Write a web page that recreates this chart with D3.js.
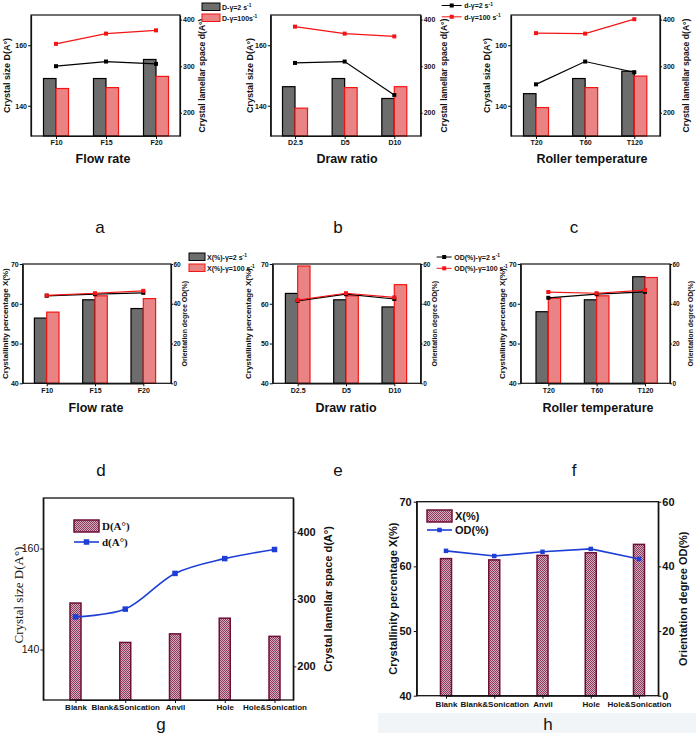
<!DOCTYPE html>
<html>
<head>
<meta charset="utf-8">
<script src="https://cdn.jsdelivr.net/npm/d3@7"></script>
<style>
  body { margin: 0; background: #fff; }
  svg { display: block; }
  text { font-family: "Liberation Sans", Arial, sans-serif; }
</style>
</head>
<body>
<svg id="fig" width="696" height="738"></svg>
<script>
// ---- data ----
const flowCats = ['F10', 'F15', 'F20'];
const drawCats = ['D2.5', 'D5', 'D10'];
const tempCats = ['T20', 'T60', 'T120'];

// crystal size D (A°), bars
const sizeLowFlow = [149, 149, 155.3];
const sizeHighFlow = [145.7, 146, 149.7];
const sizeLowDraw = [146.3, 149, 142.4];
const sizeHighDraw = [139.2, 146, 146.3];
const sizeLowTemp = [144, 149, 151.4];
const sizeHighTemp = [139.4, 146, 149.8];

// lamellar space d (A°), lines
const spaceLowFlow = [300, 310, 305];
const spaceHighFlow = [348, 370, 377];
const spaceLowDraw = [307, 310, 238];
const spaceHighDraw = [385, 370, 364];
const spaceLowTemp = [261, 310, 287];
const spaceHighTemp = [371, 370, 401];

// crystallinity X (%), bars
const crystLowFlow = [56.4, 61, 58.8];
const crystHighFlow = [57.9, 62, 61.3];
const crystLowDraw = [62.6, 61, 59.2];
const crystHighDraw = [69.5, 62, 64.8];
const crystLowTemp = [58, 61, 66.8];
const crystHighTemp = [61.4, 62, 66.6];

// orientation degree OD (%), lines
const odLowFlow = [44, 44.8, 45.5];
const odHighFlow = [44.2, 45.3, 46.5];
const odLowDraw = [41.5, 44.8, 42.4];
const odHighDraw = [41.8, 45.3, 43.2];
const odLowTemp = [43, 44.8, 46];
const odHighTemp = [45.9, 45.3, 46.9];

// process comparison
const processCats = ['Blank', 'Blank&Sonication', 'Anvil', 'Hole', 'Hole&Sonication'];
const procSize = [149.2, 141.4, 143.1, 146.2, 142.6];
const procSpace = [273.5, 285, 338, 360, 373.5];
const procCryst = [61.2, 61, 61.7, 62.1, 63.4];
const procOD = [44.8, 43.2, 44.5, 45.4, 42.3];

const sizeTicks = [140, 160];
const spaceTicks = [200, 300, 400];
const crystTicks = [40, 50, 60, 70];
const odTicks = [0, 20, 40, 60];

// ---- styles ----
const GRAY = '#6d6d6d';
const PINK = '#ea8484';
const RED = '#f41414';
const BLUE = '#1d3fd6';
const MAROON = '#6e0f38';

const svg = d3.select('#fig');
const defs = svg.append('defs');

// checker pattern for g/h bars
const pat = defs.append('pattern')
  .attr('id', 'checker')
  .attr('width', 2).attr('height', 2)
  .attr('patternUnits', 'userSpaceOnUse');
pat.append('rect').attr('width', 2).attr('height', 2).attr('fill', '#d4adbd');
pat.append('rect').attr('width', 1).attr('height', 1).attr('fill', '#8c3a5e');
pat.append('rect').attr('x', 1).attr('y', 1).attr('width', 1).attr('height', 1).attr('fill', '#8c3a5e');

// text with a "-1" superscript
function supText(parent, x, y, main, sup, size) {
  const t = parent.append('text')
    .attr('x', x).attr('y', y)
    .style('font-size', size + 'px')
    .style('font-weight', 'bold')
    .attr('fill', '#111');
  t.append('tspan').text(main);
  if (sup) {
    t.append('tspan').attr('dy', -size * 0.4).style('font-size', (size * 0.7) + 'px').text(sup);
  }
  return t;
}

function vTitle(parent, x, yc, label, size, family, weight) {
  parent.append('text')
    .attr('transform', `translate(${x},${yc}) rotate(-90)`)
    .attr('text-anchor', 'middle')
    .attr('dominant-baseline', 'central')
    .style('font-size', size + 'px')
    .style('font-weight', weight || 'bold')
    .style('font-family', family || null)
    .attr('fill', '#111')
    .text(label);
}

function styleAxis(g, size, weight) {
  g.selectAll('text')
    .style('font-size', size + 'px')
    .style('font-weight', weight)
    .attr('fill', '#111');
  g.selectAll('line').attr('stroke', '#111').attr('stroke-width', 1);
  g.select('.domain').attr('stroke', '#111').attr('stroke-width', 1.2);
}

// ---- panels a-f ----
function dualPanel(p) {
  const g = svg.append('g');
  const [x0, y0, x1, y1] = p.box;
  const x = d3.scalePoint().domain(p.cats).range(p.centers);
  const yL = d3.scaleLinear().domain(p.leftDomain).range([y1, y0]);
  const yR = d3.scaleLinear().domain(p.rightDomain).range([y1, y0]);
  const bw = p.barW;

  g.selectAll('rect.lo')
    .data(p.low)
    .join('rect')
    .attr('class', 'lo')
    .attr('x', (d, i) => x(p.cats[i]) - bw)
    .attr('y', d => yL(d))
    .attr('width', bw)
    .attr('height', d => y1 - yL(d))
    .attr('fill', GRAY)
    .attr('stroke', '#000')
    .attr('stroke-width', 1.2);

  g.selectAll('rect.hi')
    .data(p.high)
    .join('rect')
    .attr('class', 'hi')
    .attr('x', (d, i) => x(p.cats[i]))
    .attr('y', d => yL(d))
    .attr('width', bw)
    .attr('height', d => y1 - yL(d))
    .attr('fill', PINK)
    .attr('stroke', RED)
    .attr('stroke-width', 1.2);

  // box
  g.append('rect')
    .attr('x', x0).attr('y', y0)
    .attr('width', x1 - x0).attr('height', y1 - y0)
    .attr('fill', 'none').attr('stroke', '#111').attr('stroke-width', 1.2);

  // lines
  const line = d3.line().x((d, i) => x(p.cats[i])).y(d => yR(d));
  [[p.lineLow, '#000'], [p.lineHigh, RED]].forEach(([vals, col]) => {
    g.append('path').datum(vals)
      .attr('d', line).attr('fill', 'none')
      .attr('stroke', col).attr('stroke-width', 1.2);
    g.selectAll(null).data(vals).join('rect')
      .attr('x', (d, i) => x(p.cats[i]) - 2)
      .attr('y', d => yR(d) - 2)
      .attr('width', 4).attr('height', 4)
      .attr('fill', col);
  });

  // axes
  const ax = g.append('g').attr('transform', `translate(0,${y1})`)
    .call(d3.axisBottom(x).tickSize(3).tickSizeOuter(0).tickPadding(p.xPad));
  styleAxis(ax, 7, 'bold');
  const al = g.append('g').attr('transform', `translate(${x0},0)`)
    .call(d3.axisLeft(yL).tickValues(p.leftTicks).tickSize(3).tickSizeOuter(0).tickPadding(1));
  styleAxis(al, 7, 'bold');
  const ar = g.append('g').attr('transform', `translate(${x1},0)`)
    .call(d3.axisRight(yR).tickValues(p.rightTicks).tickSize(2).tickSizeOuter(0).tickPadding(p.rPad));
  styleAxis(ar, p.rSize, 'bold');

  const yc = (y0 + y1) / 2;
  vTitle(g, p.leftTitleX, yc, p.leftTitle, p.titleSize);
  vTitle(g, p.rightTitleX, yc, p.rightTitle, p.titleSize2);

  g.append('text')
    .attr('x', p.xTitleX).attr('y', p.xTitleY)
    .attr('text-anchor', 'middle')
    .style('font-size', '12.5px').style('font-weight', 'bold')
    .attr('fill', '#111')
    .text(p.xTitle);

  g.append('text')
    .attr('x', p.letterX).attr('y', p.letterY)
    .attr('text-anchor', 'middle')
    .style('font-size', '17px')
    .attr('fill', '#111')
    .text(p.letter);
}

const row1 = {
  leftDomain: [130, 170], rightDomain: [150, 410],
  leftTicks: sizeTicks, rightTicks: spaceTicks,
  leftTitle: 'Crystal size D(A°)', rightTitle: 'Crystal lamellar space d(A°)',
  titleSize: 9, titleSize2: 8.6, barW: 12.5, xPad: 1, rPad: 1, rSize: 7,
  xTitleY: 163, letterY: 233
};
const row2 = {
  leftDomain: [40, 70], rightDomain: [0, 60],
  leftTicks: crystTicks, rightTicks: odTicks,
  leftTitle: 'Crystallinity percentage X(%)', rightTitle: 'Orientation degree OD(%)',
  titleSize: 8, titleSize2: 7, barW: 12.3, xPad: 2, rPad: 0.5, rSize: 6.5,
  xTitleY: 412, letterY: 476
};

dualPanel({ ...row1, cats: flowCats, low: sizeLowFlow, high: sizeHighFlow,
  lineLow: spaceLowFlow, lineHigh: spaceHighFlow,
  box: [31, 15, 180, 136], centers: [56, 156],
  leftTitleX: 7, rightTitleX: 202, xTitle: 'Flow rate', xTitleX: 103, letter: 'a', letterX: 100 });
dualPanel({ ...row1, cats: drawCats, low: sizeLowDraw, high: sizeHighDraw,
  lineLow: spaceLowDraw, lineHigh: spaceHighDraw,
  box: [270.7, 15, 420.7, 136], centers: [295, 394.3],
  leftTitleX: 250, rightTitleX: 444, xTitle: 'Draw ratio', xTitleX: 347, letter: 'b', letterX: 338 });
dualPanel({ ...row1, cats: tempCats, low: sizeLowTemp, high: sizeHighTemp,
  lineLow: spaceLowTemp, lineHigh: spaceHighTemp,
  box: [511, 15, 660, 136], centers: [536, 634.3],
  leftTitleX: 487, rightTitleX: 686, xTitle: 'Roller temperature', xTitleX: 592, letter: 'c', letterX: 574 });

dualPanel({ ...row2, cats: flowCats, low: crystLowFlow, high: crystHighFlow,
  lineLow: odLowFlow, lineHigh: odHighFlow,
  box: [22.7, 264, 171, 383.3], centers: [46.7, 143.3],
  leftTitleX: 5, rightTitleX: 184, xTitle: 'Flow rate', xTitleX: 96, letter: 'd', letterX: 101 });
dualPanel({ ...row2, cats: drawCats, low: crystLowDraw, high: crystHighDraw,
  lineLow: odLowDraw, lineHigh: odHighDraw,
  box: [272.7, 264, 420.7, 383.3], centers: [297.7, 394.3],
  leftTitleX: 248, rightTitleX: 434, xTitle: 'Draw ratio', xTitleX: 346, letter: 'e', letterX: 338 });
dualPanel({ ...row2, cats: tempCats, low: crystLowTemp, high: crystHighTemp,
  lineLow: odLowTemp, lineHigh: odHighTemp,
  box: [520.7, 264, 670, 383.3], centers: [548.3, 645],
  leftTitleX: 502, rightTitleX: 690, xTitle: 'Roller temperature', xTitleX: 598, letter: 'f', letterX: 574 });

// ---- legends for a-f ----
(function () {
  const g = svg.append('g');
  const items = [
    { x: 202, y: 3, labs: ['D-γ=2 s', 'D-γ=100s'], kind: 'bar', len: 18 },
    { x: 441.7, y: 5.5, labs: ['d-γ=2 s', 'd-γ=100 s'], kind: 'line', len: 20 },
    { x: 189, y: 253, labs: ['X(%)-γ=2 s', 'X(%)-γ=100 s'], kind: 'bar', len: 16 },
    { x: 436.7, y: 257, labs: ['OD(%)-γ=2 s', 'OD(%)-γ=100 s'], kind: 'line', len: 15 }
  ];
  items.forEach(it => {
    it.labs.forEach((lab, i) => {
      const col = i ? RED : '#000';
      if (it.kind === 'bar') {
        const yy = it.y + i * 11;
        g.append('rect').attr('x', it.x).attr('y', yy).attr('width', it.len).attr('height', 7.5)
          .attr('fill', i ? PINK : GRAY).attr('stroke', col).attr('stroke-width', 1);
        supText(g, it.x + it.len + 2, yy + 6.5, lab, '-1', 7);
      } else {
        const yy = it.y + i * 11.3;
        g.append('line').attr('x1', it.x).attr('x2', it.x + it.len).attr('y1', yy).attr('y2', yy)
          .attr('stroke', col).attr('stroke-width', 1);
        g.append('rect').attr('x', it.x + it.len / 2 - 2).attr('y', yy - 2)
          .attr('width', 4).attr('height', 4).attr('fill', col);
        supText(g, it.x + it.len + 2.5, yy + 2.8, lab, '-1', 7);
      }
    });
  });
})();

// ---- panels g, h ----
function processPanel(p) {
  const g = svg.append('g');
  const [x0, y0, x1, y1] = p.box;
  const x = d3.scalePoint().domain(processCats).range(p.centers);
  const yL = d3.scaleLinear().domain(p.leftDomain).range([y1, y0]);
  const yR = d3.scaleLinear().domain(p.rightDomain).range([y1, y0]);
  const bw = 11;

  g.selectAll('rect.bar')
    .data(p.bars)
    .join('rect')
    .attr('class', 'bar')
    .attr('x', (d, i) => x(processCats[i]) - bw / 2)
    .attr('y', d => yL(d))
    .attr('width', bw)
    .attr('height', d => y1 - yL(d))
    .attr('fill', 'url(#checker)')
    .attr('stroke', MAROON)
    .attr('stroke-width', 1.5);

  g.append('rect')
    .attr('x', x0).attr('y', y0)
    .attr('width', x1 - x0).attr('height', y1 - y0)
    .attr('fill', 'none').attr('stroke', '#111').attr('stroke-width', 1.3);

  const line = d3.line()
    .x((d, i) => x(processCats[i]))
    .y(d => yR(d))
    .curve(p.smooth ? d3.curveCatmullRom.alpha(0.5) : d3.curveLinear);
  g.append('path').datum(p.line)
    .attr('d', line).attr('fill', 'none')
    .attr('stroke', BLUE).attr('stroke-width', 1.6);
  g.selectAll(null).data(p.line).join('rect')
    .attr('x', (d, i) => x(processCats[i]) - p.mk / 2)
    .attr('y', d => yR(d) - p.mk / 2)
    .attr('width', p.mk).attr('height', p.mk)
    .attr('fill', BLUE);

  const ax = g.append('g').attr('transform', `translate(0,${y1})`)
    .call(d3.axisBottom(x).tickSize(3).tickSizeOuter(0).tickPadding(p.xPad));
  styleAxis(ax, 8, 'bold');
  const al = g.append('g').attr('transform', `translate(${x0},0)`)
    .call(d3.axisLeft(yL).tickValues(p.leftTicks).tickSize(3).tickSizeOuter(0).tickPadding(p.lPad));
  styleAxis(al, p.lSize, p.lWeight);
  const ar = g.append('g').attr('transform', `translate(${x1},0)`)
    .call(d3.axisRight(yR).tickValues(p.rightTicks).tickSize(3).tickSizeOuter(0).tickPadding(1));
  styleAxis(ar, 11, 'bold');

  vTitle(g, p.leftTitleX, p.leftTitleY, p.leftTitle, p.leftTitleSize, p.leftFamily, p.leftWeight);
  vTitle(g, p.rightTitleX, (y0 + y1) / 2, p.rightTitle, 11);

  // legend
  const lg = g.append('g');
  lg.append('rect').attr('x', p.legX).attr('y', p.legY)
    .attr('width', 25).attr('height', 12)
    .attr('fill', 'url(#checker)').attr('stroke', MAROON).attr('stroke-width', 1.5);
  lg.append('text').attr('x', p.legX + 28).attr('y', p.legY + 10)
    .style('font-size', '11px').style('font-weight', 'bold')
    .style('font-family', p.legFamily || null)
    .attr('fill', '#111').text(p.legBar);
  const ly = p.legY + p.legGap;
  lg.append('line').attr('x1', p.legX).attr('x2', p.legX + 25)
    .attr('y1', ly).attr('y2', ly).attr('stroke', BLUE).attr('stroke-width', 1.6);
  lg.append('rect').attr('x', p.legX + 12.5 - p.mk / 2).attr('y', ly - p.mk / 2)
    .attr('width', p.mk).attr('height', p.mk).attr('fill', BLUE);
  lg.append('text').attr('x', p.legX + 28).attr('y', ly + 4)
    .style('font-size', '11px').style('font-weight', 'bold')
    .style('font-family', p.legFamily || null)
    .attr('fill', '#111').text(p.legLine);

  g.append('text')
    .attr('x', p.letterX).attr('y', p.letterY)
    .attr('text-anchor', 'middle')
    .style('font-size', '17px')
    .attr('fill', '#111')
    .text(p.letter);
}

// faint band under h
svg.insert('rect', ':first-child')
  .attr('x', 378).attr('y', 713).attr('width', 318).attr('height', 20)
  .attr('fill', '#f1f5f8');

processPanel({
  box: [43.3, 498, 293.3, 700], centers: [75.5, 274.5],
  leftDomain: [130, 170], rightDomain: [150, 450],
  leftTicks: sizeTicks, rightTicks: spaceTicks,
  bars: procSize, line: procSpace, smooth: true, mk: 5.5,
  xPad: 1.5, lPad: 1, lSize: 10.5, lWeight: 'normal',
  leftTitle: 'Crystal size D(A°)', leftTitleX: 18, leftTitleY: 595, leftTitleSize: 13,
  leftFamily: '"Liberation Serif", "Times New Roman", serif', leftWeight: 'normal',
  rightTitle: 'Crystal lamellar space d(A°)', rightTitleX: 328,
  legX: 74, legY: 520, legGap: 22, legBar: 'D(A°)', legLine: 'd(A°)',
  legFamily: '"Liberation Serif", "Times New Roman", serif',
  letter: 'g', letterX: 161, letterY: 730
});

processPanel({
  box: [416.7, 501.7, 658.3, 695.7], centers: [446, 639],
  leftDomain: [40, 70], rightDomain: [0, 60],
  leftTicks: crystTicks, rightTicks: odTicks,
  bars: procCryst, line: procOD, smooth: false, mk: 4.5,
  xPad: 3, lPad: 2, lSize: 11, lWeight: 'bold',
  leftTitle: 'Crystallinity percentage X(%)', leftTitleX: 393, leftTitleY: 598.7, leftTitleSize: 11,
  rightTitle: 'Orientation degree OD(%)', rightTitleX: 683,
  legX: 427, legY: 510, legGap: 20, legBar: 'X(%)', legLine: 'OD(%)',
  letter: 'h', letterX: 548, letterY: 730
});
</script>
</body>
</html>
